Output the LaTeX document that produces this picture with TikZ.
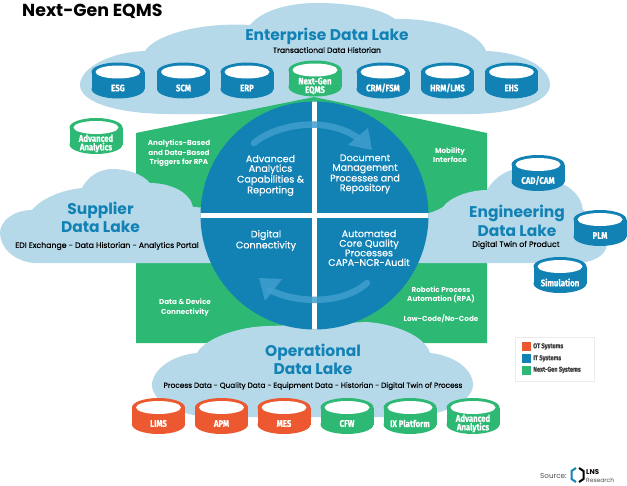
\documentclass[tikz,border=0pt]{standalone}
\usepackage{fontspec}
\setmainfont{Poppins}
\newfontfamily\medfont[FakeBold=0.35]{Poppins}
\newfontfamily\condfont[FakeStretch=0.82, FakeBold=0.5]{Fira Sans}
\usepackage{tikz}

\definecolor{itblue}{RGB}{18,130,181}
\definecolor{lakeblue}{RGB}{182,217,234}
\definecolor{nextgreen}{RGB}{45,184,115}
\definecolor{otorange}{RGB}{236,88,47}
\definecolor{sweepblue}{RGB}{64,158,205}

\tikzset{
    lake/.style={fill=lakeblue},
    laketitle/.style={text=itblue, align=center, inner sep=0, font=\fontsize{15.5}{18.5}\selectfont\bfseries},
    lakesub/.style={text=black, align=center, inner sep=0, font=\medfont\fontsize{#1}{8}\selectfont},
    lakesub/.default=7.6,
    quadrant/.style={text=white, align=center, inner sep=0, font=\medfont\fontsize{9.6}{9.6}\selectfont},
    greenlabel/.style={text=white, align=center, inner sep=0, font=\fontsize{7.2}{9.5}\selectfont\bfseries},
    drumlabel/.style={text=white, align=center, inner sep=0, font=\condfont\fontsize{9.5}{8.6}\selectfont\bfseries},
    keylabel/.style={text=black!75, anchor=west, inner sep=0, font=\condfont\fontsize{7}{8}\selectfont\bfseries},
}

% drum: x, y of the top face, colour, node name, text
\newcommand{\drum}[5]{
    \fill[#3] (#1,#2) ellipse [x radius=26.5, y radius=9.5];
    \fill[#3] (#1,#2+17) ellipse [x radius=26.5, y radius=9.5];
    \fill[#3] (#1-26.5,#2) rectangle (#1+26.5,#2+17);
    \fill[white] (#1,#2) ellipse [x radius=22.5, y radius=6.5];
    \node[drumlabel] (#4) at (#1,#2+16) {#5};
}

\begin{document}
\begin{tikzpicture}[x=1pt, y=-1pt]

    \useasboundingbox (0,0) rectangle (627,485);

    \node[anchor=west, inner sep=0, font=\fontsize{17.4}{20}\selectfont\bfseries] (title) at (22,11) {Next-Gen EQMS};

    % Enterprise cloud sits behind the green field
    \path[lake] (80,85) .. controls (80,68) and (110,52) .. (145,51)
        .. controls (155,35) and (200,22) .. (250,25)
        .. controls (262,10) and (290,3) .. (316,3)
        .. controls (350,3) and (380,8) .. (395,19)
        .. controls (440,18) and (480,33) .. (486,51)
        .. controls (520,52) and (550,66) .. (550,85)
        .. controls (550,103) and (510,114) .. (470,114)
        -- (170,114) .. controls (120,114) and (80,103) .. (80,85);

    % green field
    \fill[nextgreen] (136,133) -- (314,97) -- (487,133) -- (487,343) -- (136,343) -- cycle;

    % Supplier cloud
    \path[lake] (0,233) .. controls (0,220) and (15,210) .. (32,210)
        .. controls (42,198) and (62,190) .. (82,188)
        .. controls (88,176) and (100,169) .. (112,169)
        .. controls (128,169) and (142,174) .. (150,183)
        .. controls (170,183) and (190,192) .. (193,207)
        -- (250,210) -- (250,263) -- (35,263) .. controls (15,262) and (0,248) .. (0,233);

    % Engineering cloud
    \path[lake] (400,213) -- (429,213) .. controls (433,212) and (438,210) .. (443,207)
        .. controls (450,197) and (470,190) .. (487,190)
        .. controls (495,176) and (510,168) .. (523,168)
        .. controls (540,168) and (552,174) .. (560,183)
        .. controls (572,187) and (582,198) .. (583,210)
        .. controls (598,216) and (607,230) .. (607,243)
        .. controls (607,256) and (592,263) .. (575,263)
        -- (400,263) -- cycle;

    % Operational cloud
    \path[lake] (152,385) .. controls (152,370) and (172,355) .. (197,353)
        .. controls (205,338) and (240,326) .. (270,326)
        -- (367,322) .. controls (395,324) and (425,336) .. (430,353)
        .. controls (452,355) and (473,368) .. (473,385)
        .. controls (473,402) and (440,417) .. (405,417)
        -- (215,417) .. controls (180,417) and (152,402) .. (152,385);

    % central circle and its quadrants
    \fill[itblue] (314.5,215.5) circle [radius=114];
    \begin{scope}
        \clip (314.5,215.5) circle [radius=114];
        \draw[white, line width=4.2pt] (314.5,95) -- (314.5,335);
        \draw[white, line width=4.2pt] (195,215.5) -- (435,215.5);
    \end{scope}

    % sweep arrows
    \draw[sweepblue, line width=6.5pt, line cap=round, opacity=0.85] (254,143) .. controls (275,125) and (325,115) .. (358,138);
    \fill[sweepblue, opacity=0.85] (368,128) -- (372,150) -- (348,145) -- cycle;
    \draw[sweepblue, line width=6.5pt, line cap=round, opacity=0.85] (367,283) .. controls (345,303) and (300,305) .. (270,290);
    \fill[sweepblue, opacity=0.85] (259,278) -- (282,279) -- (265,301) -- cycle;

    % quadrant texts
    \node[quadrant] (analytics) at (270.5,175.5) {Advanced\\Analytics\\Capabilities \&\\Reporting};
    \node[quadrant] (document) at (365,174) {Document\\Management\\Processes and\\Repository};
    \node[quadrant] (digital) at (266,240.5) {Digital\\Connectivity};
    \node[quadrant] (automated) at (369,248) {Automated\\Core Quality\\Processes\\CAPA-NCR-Audit};

    % texts on the green field
    \node[greenlabel] (triggers) at (179,153.5) {Analytics-Based\\and Data-Based\\Triggers for RPA};
    \node[greenlabel] (mobility) at (450,155) {Mobility\\Interface};
    \node[greenlabel] (device) at (185,307.5) {Data \& Device\\Connectivity};
    \node[greenlabel] (robotic) at (441,295) {Robotic Process\\Automation (RPA)};
    \node[greenlabel] (lowcode) at (441,319) {Low-Code/No-Code};

    % lake titles
    \node[laketitle] (enterprise) at (327,36) {Enterprise Data Lake};
    \node[lakesub] (historian) at (327,50) {Transactional Data Historian};
    \node[laketitle] (supplier) at (100.5,217.5) {Supplier\\Data Lake};
    \node[lakesub=7.8] (exchange) at (107,246) {EDI Exchange - Data Historian - Analytics Portal};
    \node[laketitle] (engineering) at (517,221) {Engineering\\Data Lake};
    \node[lakesub=7.9] (twin) at (516,245) {Digital Twin of Product};
    \node[laketitle] (operational) at (313,359.5) {Operational\\Data Lake};
    \node[lakesub=7.35] (process) at (313,386) {Process Data - Quality Data - Equipment Data - Historian - Digital Twin of Process};

    % enterprise systems
    \drum{118}{72}{itblue}{esg}{ESG}
    \drum{183.5}{72}{itblue}{scm}{SCM}
    \drum{247}{72}{itblue}{erp}{ERP}
    \drum{315}{70}{nextgreen}{eqms}{Next-Gen\\EQMS}
    \drum{383}{72}{itblue}{crm}{CRM/FSM}
    \drum{447.5}{72}{itblue}{hrm}{HRM/LMS}
    \drum{511.5}{72}{itblue}{ehs}{EHS}

    % stand-alone analytics and engineering systems
    \drum{96}{127.5}{nextgreen}{analyticsleft}{Advanced\\Analytics}
    \drum{538}{164.5}{itblue}{cad}{CAD/CAM}
    \drum{600}{219.5}{itblue}{plm}{PLM}
    \drum{560}{266.5}{itblue}{simulation}{Simulation}

    % operational systems
    \drum{158.5}{407.5}{otorange}{lims}{LIMS}
    \drum{221.5}{407.5}{otorange}{apm}{APM}
    \drum{284}{407.5}{otorange}{mes}{MES}
    \drum{347}{407.5}{nextgreen}{cfw}{CFW}
    \drum{410}{407.5}{nextgreen}{ix}{IX Platform}
    \drum{473}{407.5}{nextgreen}{analyticsright}{Advanced\\Analytics}

    % legend
    \draw[black!8, fill=white] (515,337) rectangle (594,381);
    \fill[otorange] (522,342) rectangle (531,351);
    \fill[itblue] (522,354) rectangle (531,363);
    \fill[nextgreen] (522,366) rectangle (531,374.5);
    \node[keylabel] (otkey) at (533,346.5) {OT Systems};
    \node[keylabel] (itkey) at (533,358.5) {IT Systems};
    \node[keylabel] (ngkey) at (533,370) {Next-Gen Systems};

    % source line
    \node[anchor=west, inner sep=0, text=black!70, font=\fontsize{7.2}{8}\selectfont] (source) at (540,476) {Source:};
    \draw[itblue, line width=2pt] (576,468) -- (571.5,471) -- (571.5,479) -- (576,482);
    \draw[black, line width=2pt] (579,468) -- (583.5,471) -- (583.5,479) -- (579,482);
    \node[anchor=west, inner sep=0, font=\fontsize{7}{8}\selectfont\bfseries] (lns) at (586,472.5) {LNS};
    \node[anchor=west, inner sep=0, text=black!70, font=\fontsize{6}{7}\selectfont] (research) at (586,480) {Research};

\end{tikzpicture}
\end{document}
